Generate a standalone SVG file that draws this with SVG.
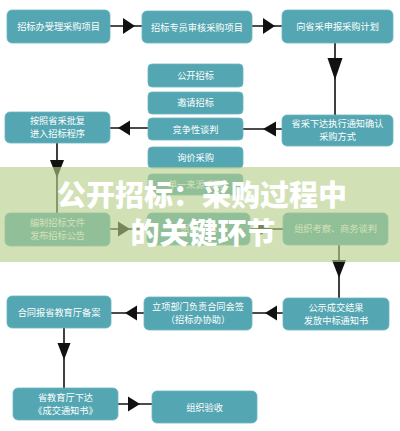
<svg xmlns="http://www.w3.org/2000/svg" width="400" height="431" viewBox="0 0 400 431">
<style>
.box{fill:#53a6b2;stroke:#6db7c1;stroke-width:0.8}
.t{font-family:"Noto Sans CJK SC","Noto Sans",sans-serif;font-size:9.2px;fill:#ffffff;text-anchor:middle}
.ln{stroke:#111;stroke-width:1.6;fill:none}
.ah{fill:#111}
.title{font-family:"Noto Sans CJK SC","Noto Sans",sans-serif;font-size:29px;font-weight:900;fill:#ffffff;text-anchor:middle}
</style>
<rect width="400" height="431" fill="#ffffff"/>
<g id="connectors">
<path class="ln" d="M110,26H142 M252,26H282 M335,43V115 M282,129H243 M148,128H110 M57,143V213 M110,229H147 M250,229H283 M339,245V298 M283,313H252 M144,313H111 M64,328V388 M118,404H152"/>
<polygon class="ah" points="123,18 135,26 123,34"/>
<polygon class="ah" points="263,18 275,26 263,34"/>
<polygon class="ah" points="327.5,58 342.5,58 335,80"/>
<polygon class="ah" points="276,121.5 276,136.5 263,129"/>
<polygon class="ah" points="130,120.5 130,135.5 118,128"/>
<polygon class="ah" points="50,160 64,160 57,178"/>
<polygon class="ah" points="118,221.5 130,229 118,236.5"/>
<polygon class="ah" points="258,221.5 270,229 258,236.5"/>
<polygon class="ah" points="332,260 346,260 339,278"/>
<polygon class="ah" points="277,305.5 277,320.5 265,313"/>
<polygon class="ah" points="137,305.5 137,320.5 125,313"/>
<polygon class="ah" points="57.5,343 70.5,343 64,360"/>
<polygon class="ah" points="128,396.5 140,404 128,411.5"/>
</g>
<g id="n1"><rect class="box" x="7" y="10" width="103" height="33" rx="5"/><text class="t" x="58.5" y="30">招标办受理采购项目</text></g>
<g id="n2"><rect class="box" x="142" y="11" width="110" height="32" rx="5"/><text class="t" x="197" y="30.5">招标专员审核采购项目</text></g>
<g id="n3"><rect class="box" x="282" y="10" width="111" height="33" rx="5"/><text class="t" x="337.5" y="30">向省采申报采购计划</text></g>
<g id="n4"><rect class="box" x="282" y="115" width="111" height="31" rx="5"/><text class="t" x="337.5" y="127">省采下达执行通知确认</text><text class="t" x="337.5" y="140">采购方式</text></g>
<g id="m1"><rect class="box" x="148" y="64" width="95" height="23" rx="4"/><text class="t" x="195.5" y="78.5">公开招标</text></g>
<g id="m2"><rect class="box" x="148" y="92" width="95" height="22" rx="4"/><text class="t" x="195.5" y="106">邀请招标</text></g>
<g id="m3"><rect class="box" x="148" y="118" width="95" height="22" rx="4"/><text class="t" x="195.5" y="132.5">竞争性谈判</text></g>
<g id="m4"><rect class="box" x="148" y="147" width="95" height="21" rx="4"/><text class="t" x="195.5" y="160.5">询价采购</text></g>
<g id="m5"><rect class="box" x="148" y="174" width="95" height="21" rx="4"/><text class="t" x="195.5" y="187.5">单一来源采购</text></g>
<g id="n5"><rect class="box" x="5" y="112" width="105" height="31" rx="5"/><text class="t" x="57.5" y="124">按照省采批复</text><text class="t" x="57.5" y="137">进入招标程序</text></g>
<g id="n6"><rect class="box" x="5" y="213" width="105" height="33" rx="5"/><text class="t" x="57.5" y="226">编制招标文件</text><text class="t" x="57.5" y="239">发布招标公告</text></g>
<g id="n7"><rect class="box" x="147" y="213" width="103" height="32" rx="5"/><text class="t" x="198.5" y="232">组织开标</text></g>
<g id="n8"><rect class="box" x="283" y="213" width="105" height="32" rx="5"/><text class="t" x="335.5" y="232">组织考察、商务谈判</text></g>
<g id="n9"><rect class="box" x="283" y="298" width="106" height="32" rx="5"/><text class="t" x="336" y="310.5">公示成交结果</text><text class="t" x="336" y="323.5">发放中标通知书</text></g>
<g id="n10"><rect class="box" x="144" y="297" width="108" height="33" rx="5"/><text class="t" x="198" y="310">立项部门负责合同会签</text><text class="t" x="198" y="323">（招标办协助）</text></g>
<g id="n11"><rect class="box" x="7" y="296" width="104" height="32" rx="5"/><text class="t" x="59" y="315.5">合同报省教育厅备案</text></g>
<g id="n12"><rect class="box" x="13" y="388" width="105" height="32" rx="5"/><text class="t" x="65.5" y="400.5">省教育厅下达</text><text class="t" x="65.5" y="413.5">《成交通知书》</text></g>
<g id="n13"><rect class="box" x="152" y="391" width="105" height="32" rx="5"/><text class="t" x="204.5" y="410.5">组织验收</text></g>
<rect x="0" y="167" width="400" height="95" fill="rgb(182,206,136)" fill-opacity="0.62"/>
<text class="title" x="202" y="206">公开招标：采购过程中</text>
<text class="title" x="203" y="244">的关键环节</text>
</svg>
